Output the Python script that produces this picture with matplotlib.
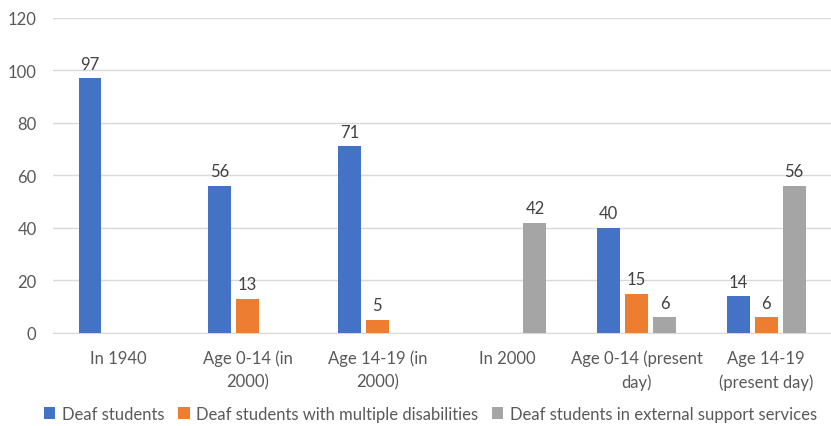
import numpy as np
import matplotlib.pyplot as plt

categories = ["In 1940", "Age 0-14 (in\n2000)", "Age 14-19 (in\n2000)",
              "In 2000", "Age 0-14 (present\nday)", "Age 14-19\n(present day)"]
deaf = [97, 56, 71, None, 40, 14]
multiple = [None, 13, 5, None, 15, 6]
external = [None, None, None, 42, 6, 56]
series_names = ["Deaf students", "Deaf students with multiple disabilities",
                "Deaf students in external support services"]
colors = ["#4472c4", "#ed7d31", "#a5a5a5"]

plt.rcParams['font.family'] = ['Lato', 'DejaVu Sans']

fig = plt.figure(figsize=(8.31, 4.27), dpi=100)
ax = fig.add_axes([0.064, 0.218, 0.936, 0.738])

x = np.arange(len(categories))
width = 0.177
step = 0.216

for i, (vals, name, c) in enumerate(zip([deaf, multiple, external], series_names, colors)):
    v = np.array([np.nan if val is None else val for val in vals], dtype=float)
    pos = x + (i - 1) * step
    ax.bar(pos, np.nan_to_num(v), width, color=c, label=name, zorder=3)
    for p, val in zip(pos, vals):
        if val is not None:
            ax.text(p, val + 2.5, str(val), ha="center", va="bottom",
                    fontsize=12, color="#404040")

ax.set_xlim(-0.5, len(categories) - 0.5)
ax.set_ylim(0, 120)
ax.set_yticks(range(0, 121, 20))
ax.yaxis.grid(True, color="#d9d9d9", linewidth=1, zorder=0)
ax.set_xticks(x)
ax.set_xticklabels(categories, fontsize=12, color="#595959", linespacing=1.55)
ax.tick_params(axis="y", labelsize=12, labelcolor="#595959", length=0, pad=12)
ax.tick_params(axis="x", length=0, pad=12)
for s in ["top", "right", "left"]:
    ax.spines[s].set_visible(False)
ax.spines["bottom"].set_color("#d9d9d9")

fig.legend(loc="lower center", bbox_to_anchor=(0.518, -0.025), ncol=3, frameon=False,
           fontsize=12, labelcolor="#595959", handlelength=0.7, handleheight=0.7,
           handletextpad=0.4, columnspacing=0.8)

fig.savefig("out.png", dpi=100, facecolor="white")
